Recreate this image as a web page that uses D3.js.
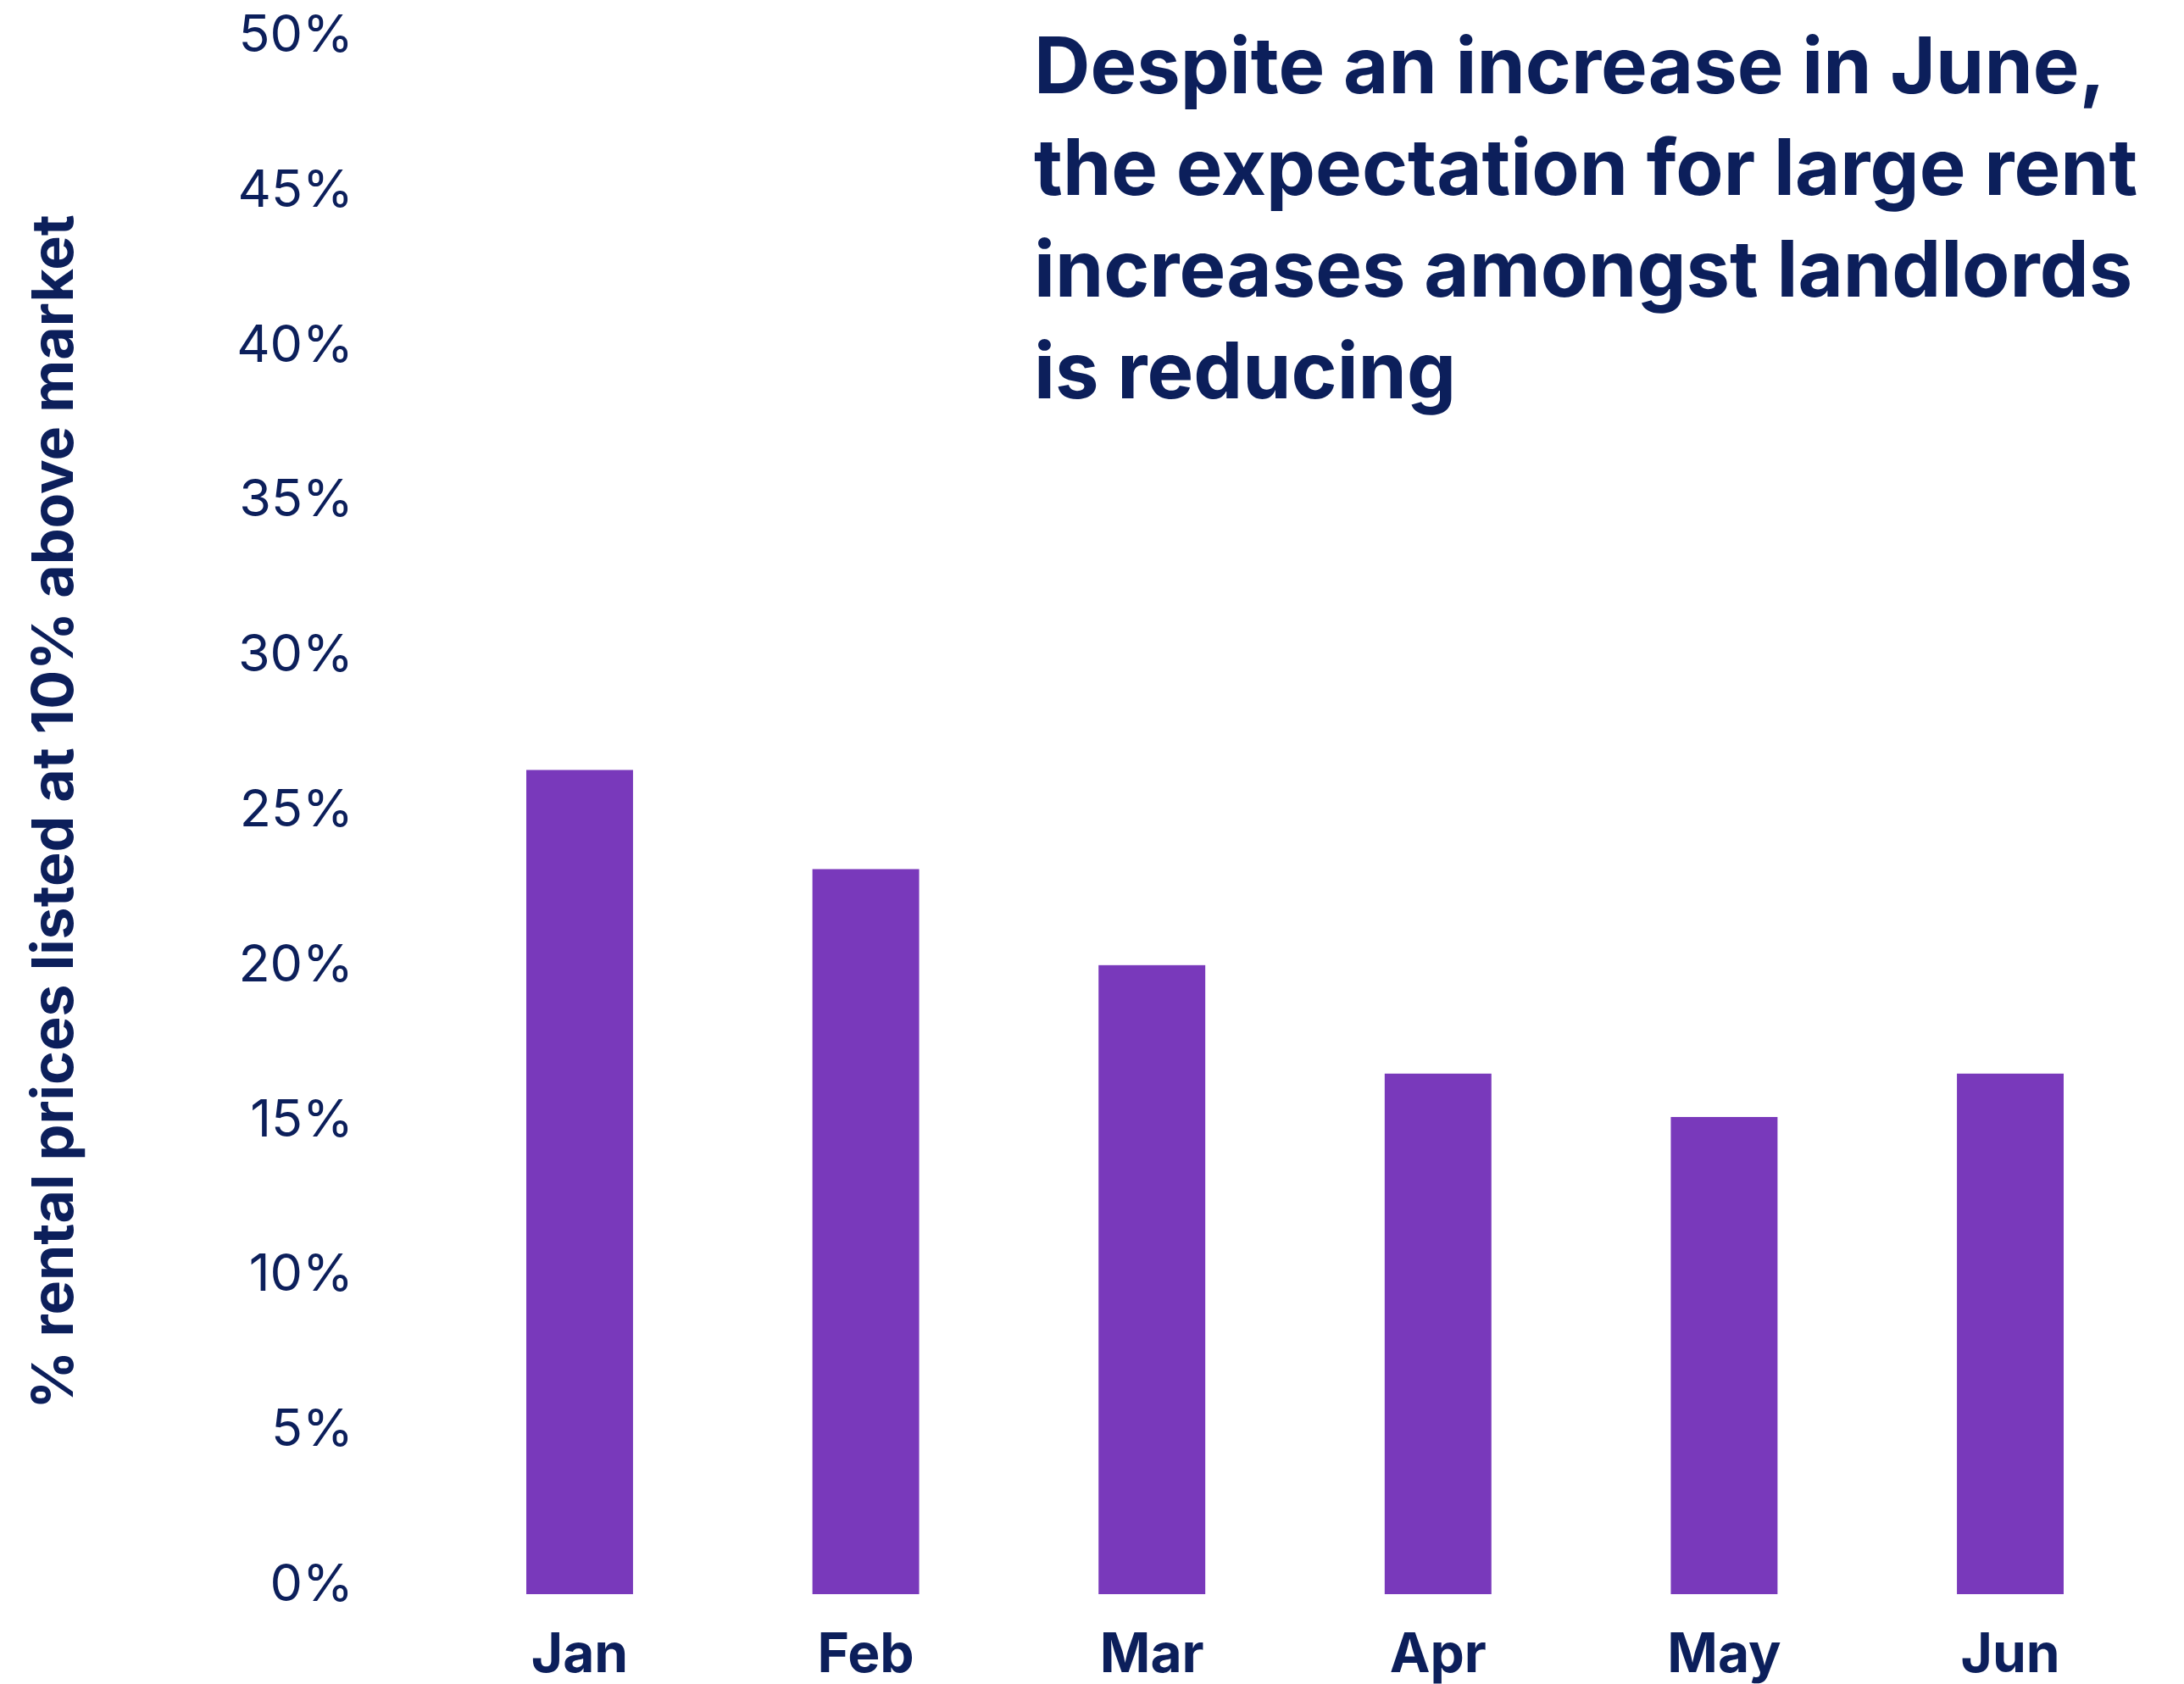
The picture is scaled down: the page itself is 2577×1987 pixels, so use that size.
<!DOCTYPE html>
<html>
<head>
<meta charset="utf-8">
<script src="https://cdn.jsdelivr.net/npm/d3@7"></script>
<style>
  body { margin: 0; background: #fff; }
  text { font-family: Inter, "DejaVu Sans", sans-serif; fill: #0c1f5b; }
</style>
</head>
<body>
<div id="chart"></div>
<script>
var months = ["Jan", "Feb", "Mar", "Apr", "May", "Jun"];
var shareAbove = [26.6, 23.4, 20.3, 16.8, 15.4, 16.8];
var yTicks = [0, 5, 10, 15, 20, 25, 30, 35, 40, 45, 50];
var titleLines = ["Despite an increase in June,",
    "the expectation for large rent",
    "increases amongst landlords",
    "is reducing"];
var yTitle = "% rental prices listed at 10% above market";

var w = 2577, h = 1987;
var barColor = "#7939bb";

var svg = d3.select("#chart").append("svg")
    .attr("width", w)
    .attr("height", h);

var xScale = d3.scaleBand()
    .domain(months)
    .range([621, 2435])
    .paddingInner(0.627)
    .paddingOuter(0);

var yScale = d3.scaleLinear()
    .domain([0, 50])
    .range([1881, 53]);

// y axis, labels only
var yAxis = d3.axisLeft(yScale)
    .tickValues(yTicks)
    .tickFormat(function (d) { return d + "%"; })
    .tickSize(0)
    .tickPadding(13);

var yg = svg.append("g")
    .attr("transform", "translate(430,0)")
    .call(yAxis);
yg.select(".domain").remove();
yg.selectAll("text")
    .attr("y", -12)
    .style("font-family", "Inter, sans-serif")
    .style("font-size", "61px")
    .style("font-weight", 400)
    .attr("fill", "#0c1f5b");

// bars
svg.selectAll("rect.bar")
    .data(months)
    .enter().append("rect")
    .attr("class", "bar")
    .attr("x", function (d) { return xScale(d); })
    .attr("width", xScale.bandwidth())
    .attr("y", function (d, i) { return yScale(shareAbove[i]); })
    .attr("height", function (d, i) { return yScale(0) - yScale(shareAbove[i]); })
    .attr("fill", barColor);

// x axis
var xAxis = d3.axisBottom(xScale).tickSize(0).tickPadding(0);
var xg = svg.append("g")
    .attr("transform", "translate(0,1881)")
    .call(xAxis);
xg.select(".domain").remove();
xg.selectAll("text")
    .attr("y", 92)
    .attr("dy", 0)
    .style("font-family", "Inter, sans-serif")
    .style("font-size", "64px")
    .style("font-weight", 700)
    .attr("fill", "#0c1f5b");

// y title
svg.append("text")
    .attr("transform", "translate(86,958) rotate(-90)")
    .attr("text-anchor", "middle")
    .style("font-size", "68px")
    .style("font-weight", 700)
    .text(yTitle);

// headline
var title = svg.append("text")
    .attr("x", 1220)
    .attr("y", 110)
    .style("font-size", "92px")
    .style("font-weight", 700);
title.selectAll("tspan")
    .data(titleLines)
    .enter().append("tspan")
    .attr("x", 1220)
    .attr("dy", function (d, i) { return i == 0 ? 0 : 120; })
    .text(function (d) { return d; });
</script>
</body>
</html>
